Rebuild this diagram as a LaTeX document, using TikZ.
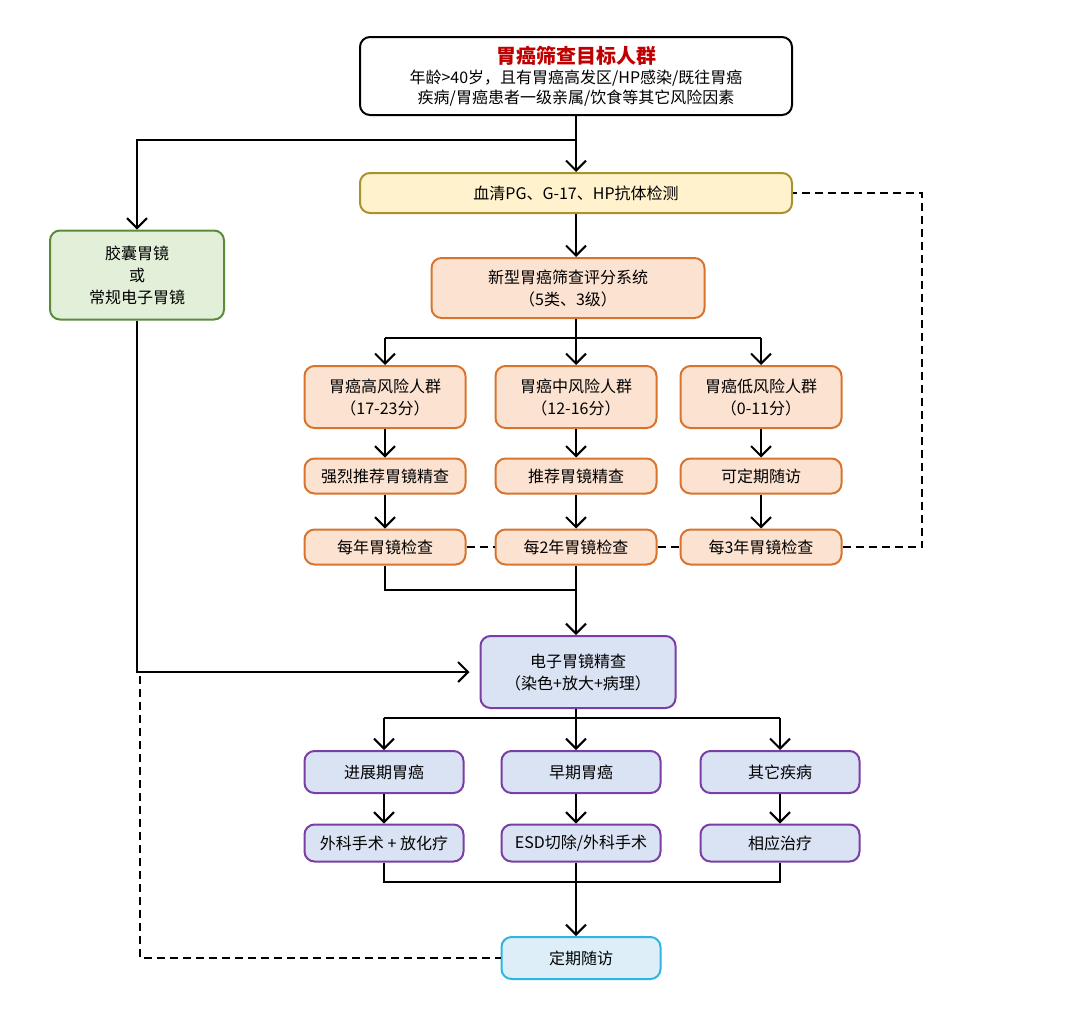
\documentclass[tikz,border=0pt]{standalone}
\usepackage{fontspec}
\setmainfont{Noto Sans CJK SC}
\usetikzlibrary{arrows.meta, calc}

\definecolor{titred}{HTML}{C00000}
\definecolor{yelfill}{HTML}{FFF2CC}
\definecolor{yelline}{HTML}{A8922E}
\definecolor{grnfill}{HTML}{E2F0D9}
\definecolor{grnline}{HTML}{5A8A3A}
\definecolor{orgfill}{HTML}{FCE2D0}
\definecolor{orgline}{HTML}{D8742E}
\definecolor{purfill}{HTML}{DAE3F3}
\definecolor{purline}{HTML}{7A3EA6}
\definecolor{cynfill}{HTML}{DDEEF8}
\definecolor{cynline}{HTML}{2DB6E2}

\begin{document}
\begin{tikzpicture}[x=0.5pt, y=-0.5pt, >={Straight Barb[length=5pt,width=10pt]},
    font=\fontsize{8}{11}\selectfont,
    box/.style={draw, rounded corners=5pt, line width=1pt, align=center, inner sep=0pt},
    topbox/.style={box, fill=white, minimum width=216pt, minimum height=39pt},
    serumbox/.style={box, draw=yelline, fill=yelfill, minimum width=216pt, minimum height=20pt},
    greenbox/.style={box, draw=grnline, fill=grnfill, minimum width=87pt, minimum height=44.5pt},
    orgbox/.style={box, draw=orgline, fill=orgfill, minimum width=80.5pt, minimum height=17.5pt},
    purbox/.style={box, draw=purline, fill=purfill, minimum width=79.5pt, minimum height=21pt},
    cynbox/.style={box, draw=cynline, fill=cynfill, minimum width=79.5pt, minimum height=21pt},
    arr/.style={->, line width=1pt},
    conn/.style={line width=1pt},
    dline/.style={line width=1pt, dashed, dash pattern=on 4pt off 2.5pt}]
    \useasboundingbox (0,0) rectangle (1080,1033);

    % 目标人群
    \node[topbox] (top) at (576,76) {{\fontsize{10}{13}\selectfont\bfseries\color{titred}胃癌筛查目标人群}\\[-1pt]
        年龄>40岁，且有胃癌高发区/HP感染/既往胃癌\\[-1pt]疾病/胃癌患者一级亲属/饮食等其它风险因素};

    % 血清检测与评分
    \node[serumbox] (serum) at (576,193) {血清PG、G-17、HP抗体检测};
    \node[orgbox, minimum width=136.5pt, minimum height=30pt] (score) at (568,288) {新型胃癌筛查评分系统\\（5类、3级）};
    \node[greenbox] (green) at (137,275) {胶囊胃镜\\或\\常规电子胃镜};

    % 三类风险人群
    \node[orgbox, minimum height=31pt] (high) at (385,397) {胃癌高风险人群\\（17-23分）};
    \node[orgbox, minimum height=31pt] (mid) at (576,397) {胃癌中风险人群\\（12-16分）};
    \node[orgbox, minimum height=31pt] (low) at (761,397) {胃癌低风险人群\\（0-11分）};
    \node[orgbox] (high-rec) at (385,476) {强烈推荐胃镜精查};
    \node[orgbox] (mid-rec) at (576,476) {推荐胃镜精查};
    \node[orgbox] (low-rec) at (761,476) {可定期随访};
    \node[orgbox] (high-chk) at (385,547) {每年胃镜检查};
    \node[orgbox] (mid-chk) at (576,547) {每2年胃镜检查};
    \node[orgbox] (low-chk) at (761,547) {每3年胃镜检查};

    % 电子胃镜精查
    \node[purbox, minimum width=97.5pt, minimum height=36pt] (endo) at (578,672) {电子胃镜精查\\（染色+放大+病理）};
    \node[purbox] (adv) at (384,772) {进展期胃癌};
    \node[purbox] (early) at (581,772) {早期胃癌};
    \node[purbox] (oth) at (780,772) {其它疾病};
    \node[purbox, minimum height=18.5pt] (adv-tx) at (384,843) {外科手术 + 放化疗};
    \node[purbox, minimum height=18.5pt] (early-tx) at (581,843) {ESD切除/外科手术};
    \node[purbox, minimum height=18.5pt] (oth-tx) at (780,843) {相应治疗};
    \node[cynbox] (follow) at (581,958) {定期随访};

    % 干线坐标
    \coordinate (fork0) at (576,140);
    \coordinate (split1) at (576,338);
    \coordinate (join1) at (576,590);
    \coordinate (split2) at (576,718);
    \coordinate (join2) at (576,882);
    \coordinate (dr) at (922,547);
    \coordinate (dd) at (140,676);

    % 连线
    \draw[arr] (top.south) -- (serum.north);
    \draw[arr] (fork0) -| (green.north);
    \draw[arr] (serum.south) -- (serum.south |- score.north);
    \draw[conn] (split1 |- score.south) -- (split1);
    \draw[conn] (high.north |- split1) -- (low.north |- split1);
    \foreach \n in {high,mid,low} {
        \draw[arr] (\n.north |- split1) -- (\n.north);
        \draw[arr] (\n.south) -- (\n-rec.north);
        \draw[arr] (\n-rec.south) -- (\n-chk.north);
    }
    \draw[dline] (high-chk.east) -- (mid-chk.west);
    \draw[dline] (mid-chk.east) -- (low-chk.west);
    \draw[dline] (low-chk.east) -- (dr) |- (serum.east);
    \draw[conn] (high-chk.south) |- (join1);
    \draw[arr] (mid-chk.south) -- (mid-chk.south |- endo.north);
    \draw[arr, shorten >=5pt] (green.south) |- (endo.west);
    \draw[conn] (split2 |- endo.south) -- (split2);
    \draw[conn] (adv.north |- split2) -- (oth.north |- split2);
    \draw[arr] (adv.north |- split2) -- (adv.north);
    \draw[arr] (split2) -- (split2 |- early.north);
    \draw[arr] (oth.north |- split2) -- (oth.north);
    \draw[arr] (adv.south) -- (adv-tx.north);
    \draw[arr] (split2 |- early.south) -- (split2 |- early-tx.north);
    \draw[arr] (oth.south) -- (oth-tx.north);
    \draw[conn] (adv-tx.south) |- (join2) -| (oth-tx.south);
    \draw[arr] (join2 |- early-tx.south) -- (join2 |- follow.north);
    \draw[dline] (dd) |- (follow.west);
\end{tikzpicture}
\end{document}
